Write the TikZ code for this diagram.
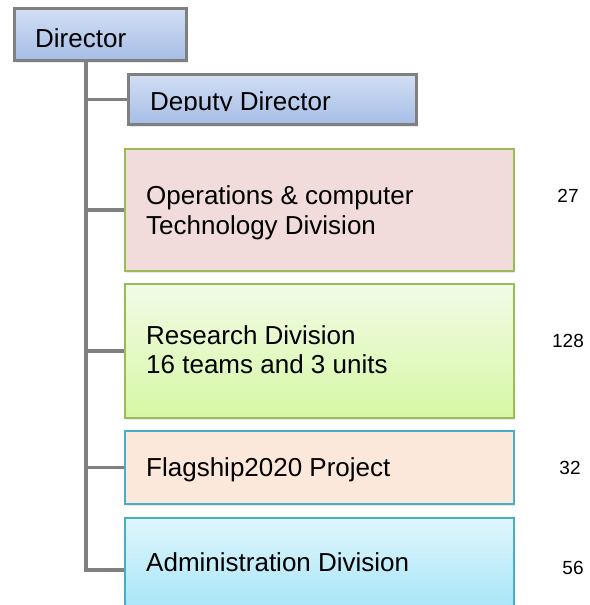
\documentclass[tikz,border=0pt]{standalone}
\usepackage{fontspec}
\setmainfont{Liberation Sans}
\usetikzlibrary{shadows}
\definecolor{linegray}{HTML}{808080}
\definecolor{headtop}{HTML}{D2DFF4}
\definecolor{headbot}{HTML}{A5BDE6}
\definecolor{opsfill}{HTML}{F2DCDB}
\definecolor{greenline}{HTML}{9BBB59}
\definecolor{restop}{HTML}{F2FBE6}
\definecolor{resbot}{HTML}{D6F7A4}
\definecolor{flagfill}{HTML}{FCE8DA}
\definecolor{blueline}{HTML}{4BACC6}
\definecolor{admtop}{HTML}{E0F6FC}
\definecolor{admbot}{HTML}{9FE3F7}
\tikzset{
  boxshadow/.style={drop shadow={opacity=0.18, shadow xshift=1.5pt, shadow yshift=-2pt}},
  headbox/.style={draw=linegray, line width=3pt, top color=headtop, bottom color=headbot,
    rectangle, inner sep=0pt, anchor=north west, boxshadow},
  unitbox/.style={line width=1.8pt, rectangle, inner sep=0pt, anchor=north west,
    minimum width=389pt, boxshadow},
  conn/.style={draw=linegray, line width=3.5pt},
  boxtext/.style={font=\fontsize{26}{30}\selectfont, inner sep=0pt, anchor=base west},
  staff/.style={font=\fontsize{19}{22}\selectfont, inner sep=0pt, anchor=base},
}
\begin{document}
\begin{tikzpicture}[x=1pt, y=-1pt]
\useasboundingbox (0,0) rectangle (589,605);
\clip (0,0) rectangle (589,605);

% connector trunk and branches (drawn first, boxes sit on top)
\coordinate (trunk) at (86,59);

% boxes
\node[headbox, minimum width=172pt, minimum height=52pt] (dir) at (13,7) {};
\node[headbox, minimum width=288pt, minimum height=50pt] (dep) at (127,73) {};
\node[unitbox, draw=greenline, fill=opsfill, minimum height=122pt] (ops) at (124,148) {};
\node[unitbox, draw=greenline, top color=restop, bottom color=resbot, minimum height=134pt] (res) at (124,283) {};
\node[unitbox, draw=blueline, fill=flagfill, minimum height=73pt] (flag) at (124,430) {};
\node[unitbox, draw=blueline, top color=admtop, bottom color=admbot, minimum height=104pt] (adm) at (124,517) {};

\draw[conn] (trunk) |- (dep.west);
\draw[conn] (trunk) |- (ops.west);
\draw[conn] (trunk) |- (res.west);
\draw[conn] (trunk) |- (flag.west);
\draw[conn] (trunk) |- (adm.west);

% box labels
\node[boxtext] (dirT) at (35,47) {Director};
\begin{scope}
  \clip (127,73) rectangle (415,110.5);
  \node[boxtext] (depT) at (150,110) {Deputy Director};
\end{scope}
\node[boxtext] (opsT1) at (146,204) {Operations \& computer};
\node[boxtext] (opsT2) at (146,234) {Technology Division};
\node[boxtext] (resT1) at (146,344) {Research Division};
\node[boxtext] (resT2) at (146,373) {16 teams and 3 units};
\node[boxtext] (flagT) at (146,476) {Flagship2020 Project};
\node[boxtext] (admT) at (146,571) {Administration Division};

% staff numbers
\node[staff] (opsN) at (568,202) {27};
\node[staff] (resN) at (568,347) {128};
\node[staff] (flagN) at (570,474) {32};
\node[staff] (admN) at (573,574) {56};
\end{tikzpicture}
\end{document}
